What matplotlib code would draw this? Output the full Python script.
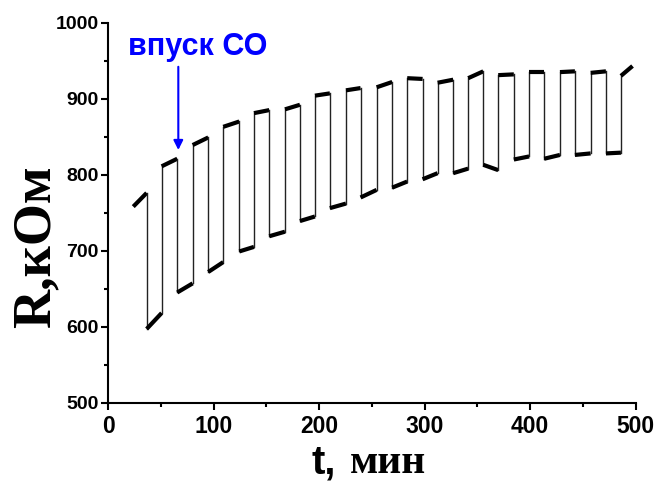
import matplotlib
matplotlib.use("Agg")
import matplotlib.pyplot as plt
from matplotlib.ticker import MultipleLocator

# switching moments, min (start of trace, every gas switch, end of trace)
switch_t = [23.7, 36.4, 50.6, 65.4, 80.0, 94.8, 109.0, 124.2, 138.1, 152.6,
            167.5, 181.7, 195.9, 210.1, 225.3, 239.2, 254.4, 269.2, 283.4,
            298.0, 312.2, 327.0, 341.2, 355.5, 369.7, 384.5, 399.0, 413.3,
            428.2, 442.4, 457.3, 471.8, 486.0, 497.0]

# resistance just after / just before every switch, kOhm
seg_start = [758, 597, 811, 645, 839, 672, 863, 699, 881, 719, 886, 739,
             904, 756, 911, 770, 915, 783, 927, 794, 921, 802, 927, 813,
             931, 820, 935, 821, 935, 826, 934, 828, 930]
seg_end = [776, 618, 821, 657, 849, 685, 870, 705, 885, 725, 892, 745,
           907, 762, 914, 780, 922, 791, 926, 802, 925, 808, 936, 806,
           932, 824, 935, 826, 936, 828, 936, 829, 943]

x_ticks = [0, 100, 200, 300, 400, 500]
y_ticks = [500, 600, 700, 800, 900, 1000]

# CO inlet marker
arrow_t = 66.4
arrow_top, arrow_tip = 942, 832.5


def main() -> int:
    fig = plt.figure(figsize=(6.61, 4.84), dpi=100)
    ax = fig.add_axes([0.1638, 0.168, 0.7979, 0.7851])

    # plateaus (thick, like the noisy band) and switches (thin)
    for i in range(len(seg_start)):
        t0, t1 = switch_t[i], switch_t[i + 1]
        ax.plot([t0, t1], [seg_start[i], seg_end[i]], color="black",
                lw=3.0, solid_capstyle="butt")
        if i + 1 < len(seg_start):
            ax.plot([t1, t1], [seg_end[i], seg_start[i + 1]], color="#222222",
                    lw=1.0)

    ax.set_xlim(0, 500)
    ax.set_ylim(500, 1000)
    ax.set_xticks(x_ticks)
    ax.set_yticks(y_ticks)
    ax.xaxis.set_minor_locator(MultipleLocator(50))
    ax.yaxis.set_minor_locator(MultipleLocator(50))
    ax.spines["top"].set_visible(False)
    ax.spines["right"].set_visible(False)
    for s in ("left", "bottom"):
        ax.spines[s].set_linewidth(1.5)
    ax.tick_params(which="major", direction="out", length=5, width=1.5)
    ax.tick_params(which="minor", direction="out", length=3, width=1.5)
    ax.tick_params(axis="x", pad=4)
    ax.tick_params(axis="y", pad=2)
    for lab in ax.get_xticklabels():
        lab.set_fontsize(16.5)
        lab.set_fontweight("bold")
        lab.set_family("Liberation Sans")
    for lab in ax.get_yticklabels():
        lab.set_fontsize(14)
        lab.set_fontweight("bold")
        lab.set_family("Liberation Sans")

    # annotation
    ax.annotate("", xy=(arrow_t, arrow_tip), xytext=(arrow_t, arrow_top),
                arrowprops=dict(arrowstyle="-|>", color="#0000ff", lw=1.5,
                                mutation_scale=14, shrinkA=0, shrinkB=0))
    ax.text(18.7, 957.5, "впуск СО", color="#0000ff", fontsize=22,
            fontweight="bold", family="Liberation Sans", va="baseline")

    # axis titles
    fig.text(0.055, 0.49, "R,кОм", rotation=90, ha="center", va="center",
             fontsize=39, fontweight="bold", family="Liberation Serif")
    fig.text(0.4716, 0.022, "t,", ha="left", va="baseline",
             fontsize=29, fontweight="bold", family="Liberation Sans")
    fig.text(0.5295, 0.022, "мин", ha="left", va="baseline",
             fontsize=30, fontweight="bold", family="Liberation Serif")

    fig.savefig("out.png", dpi=100)
    return 0


if __name__ == "__main__":
    main()
